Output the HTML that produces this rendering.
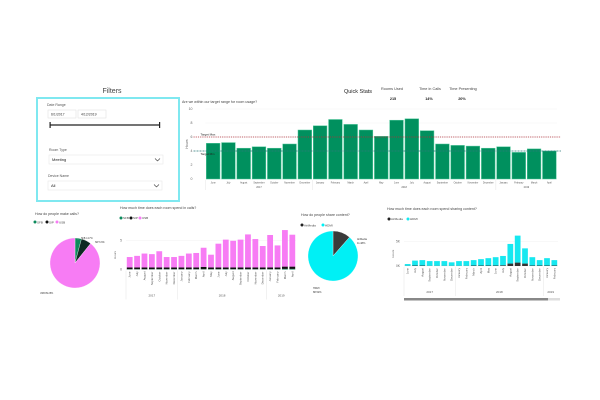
<!DOCTYPE html>
<html><head><meta charset="utf-8"><style>
body{margin:0;width:600px;height:400px;background:#fff;overflow:hidden;font-family:"Liberation Sans",sans-serif;}
svg{position:absolute;left:0;top:0}
</style></head><body>
<svg id="s" width="600" height="400" xmlns="http://www.w3.org/2000/svg" font-family="Liberation Sans, sans-serif">
<g>
<text x="112" y="93" font-size="7" fill="#444" text-anchor="middle">Filters</text>
<rect x="37" y="98" width="142" height="103" fill="#fff" stroke="#7fe8f0" stroke-width="2"/>
<text x="47" y="106" font-size="3.5" fill="#555">Date Range</text>
<rect x="48" y="110" width="28" height="8" fill="#fff" stroke="#ddd" stroke-width="0.5"/>
<text x="51" y="115.5" font-size="3.5" fill="#333">6/1/2017</text>
<rect x="78" y="110" width="28" height="8" fill="#fff" stroke="#ddd" stroke-width="0.5"/>
<text x="81" y="115.5" font-size="3.5" fill="#333">4/12/2019</text>
<line x1="50" y1="125" x2="160" y2="125" stroke="#222" stroke-width="1.2"/>
<rect x="49.5" y="122" width="1.2" height="6" fill="#222"/>
<rect x="159" y="122" width="1.2" height="6" fill="#222"/>
<text x="49" y="151" font-size="3.5" fill="#555">Room Type</text>
<rect x="49" y="155" width="114" height="9" fill="#fff" stroke="#e4e4e4" stroke-width="0.5"/>
<text x="52" y="161" font-size="4" fill="#222">Meeting</text>
<path d="M155 158.5 l2.5 2.5 l2.5 -2.5" fill="none" stroke="#333" stroke-width="0.6"/>
<text x="48" y="177" font-size="3.5" fill="#555">Device Name</text>
<rect x="48" y="181" width="114" height="9" fill="#fff" stroke="#e4e4e4" stroke-width="0.5"/>
<text x="51" y="187" font-size="4" fill="#222">All</text>
<path d="M154 184.5 l2.5 2.5 l2.5 -2.5" fill="none" stroke="#333" stroke-width="0.6"/>
</g>
<g font-size="3.8" fill="#444" text-anchor="middle">
<text x="358" y="93" font-size="5.5" fill="#222">Quick Stats</text>
<text x="392" y="90">Rooms Used</text><text x="393" y="100" font-weight="bold" fill="#222">215</text>
<text x="430" y="90">Time in Calls</text><text x="429" y="100" font-weight="bold" fill="#222">14%</text>
<text x="463" y="90">Time Presenting</text><text x="462" y="100" font-weight="bold" fill="#222">20%</text>
</g>
<text x="182" y="103" font-size="3.6" fill="#444">Are we within our target range for room usage?</text>
<g id="usage"></g>
<text x="35" y="215" font-size="3.6" fill="#444">How do people make calls?</text>
<g id="pie1"></g>
<text x="120" y="209" font-size="3.6" fill="#444">How much time does each room spend in calls?</text>
<g id="calls"></g>
<text x="301" y="216" font-size="3.6" fill="#444">How do people share content?</text>
<g id="pie2"></g>
<text x="387" y="210" font-size="3.6" fill="#444">How much time does each room spend sharing content?</text>
<g id="share"></g>
</svg>
<script>
const usageMonths=["June","July","August","September","October","November","December","January","February","March","April","May","June","July","August","September","October","November","December","January","February","March","April"];
const usageValues=[5.1,5.2,4.4,4.6,4.4,5.0,7.0,7.6,8.5,7.8,7.0,6.1,8.4,8.6,6.9,5.0,4.8,4.7,4.4,4.6,3.8,4.3,4.0];
const usageTicks=[0,2,4,6,8,10];
const targetMax=6, targetMin=4;
const callsMonths=["June","July","August","September","October","November","December","January","February","March","April","May","June","July","August","September","October","November","December","January","February","March","April"];
const callsUSB=[1.8,2.0,2.4,2.3,2.8,1.8,1.8,2.0,2.4,2.5,3.3,2.2,4.1,4.8,4.6,4.8,5.7,4.9,3.7,5.6,3.8,6.3,5.5];
const callsSIP=[0.3,0.3,0.3,0.3,0.3,0.3,0.3,0.3,0.3,0.3,0.4,0.3,0.3,0.3,0.3,0.3,0.3,0.3,0.3,0.3,0.3,0.4,0.4];
const callsSFB=[0.05,0.05,0.05,0.05,0.05,0.05,0.05,0.05,0.05,0.05,0.05,0.05,0.05,0.05,0.05,0.05,0.05,0.05,0.05,0.05,0.05,0.1,0.1];
const callsTicks=[0,5];
const shareMonths=["June","July","August","September","October","November","December","January","February","March","April","May","June","July","August","September","October","November","December","January","February"];
const shareHDMI=[0.35,1.0,1.1,0.95,0.95,0.95,0.7,0.95,0.95,1.1,1.3,1.5,1.7,1.9,4.0,5.5,3.1,1.7,1.1,1.5,1.1];
const shareAir=[0.05,0.1,0.1,0.05,0.05,0.05,0.05,0.05,0.05,0.1,0.1,0.1,0.1,0.15,0.5,0.7,0.5,0.1,0.1,0.1,0.1];
const shareTicks=[0,5];
const callsPieLabels=["SFB","SIP","USB"];
const callsPieValues=[4.17,6.58,89.25];
const sharePieLabels=["AirMedia","HDMI"];
const sharePieValues=[11.48,88.52];
const NS="http://www.w3.org/2000/svg";
function el(p,t,a,txt){const e=document.createElementNS(NS,t);for(const k in a)e.setAttribute(k,a[k]);if(txt!==undefined)e.textContent=txt;p.appendChild(e);return e;}
// usage chart
(function(){
const g=document.getElementById('usage');
const x0=205.5,x1=557,y0=179,y1=109,maxV=10;
const ys=v=>y0-(v/maxV)*(y0-y1);
const slot=(x1-x0)/usageMonths.length;
usageTicks.forEach(t=>{const l=el(g,'line',{x1:x0,x2:x1,y1:ys(t),y2:ys(t),stroke:'#eee','stroke-width':0.4});
const tx=el(g,'text',{x:x0-13,y:ys(t)+1.2,'font-size':3.5,fill:'#666','text-anchor':'end'},t);});
const yt=el(g,'text',{x:188,y:144,'font-size':3.5,fill:'#666',transform:'rotate(-90 188 144)','text-anchor':'middle'},'Hours');
usageValues.forEach((v,i)=>{const r=el(g,'rect',{x:x0+i*slot+0.8,y:ys(v),width:slot-1.6,height:y0-ys(v),fill:'#00905e',stroke:'#4fc79a','stroke-width':0.5});
const t=el(g,'text',{x:x0+i*slot+slot/2,y:y0+4.5,'font-size':2.3,fill:'#555','text-anchor':'middle'},usageMonths[i]);});
const lm=el(g,'line',{x1:x0-12,x2:x1+4,y1:ys(targetMax),y2:ys(targetMax),stroke:'#b0303a','stroke-width':0.8,'stroke-dasharray':'1.2 1'});
const ln=el(g,'line',{x1:x0-12,x2:x1+4,y1:ys(targetMin),y2:ys(targetMin),stroke:'#2a7a7a','stroke-width':0.8,'stroke-dasharray':'2 1'});
const a=el(g,'text',{x:x0-5,y:ys(targetMax)-1.5,'font-size':3,fill:'#222'},'Target Max');
const b=el(g,'text',{x:x0-5,y:ys(targetMin)+4,'font-size':3,fill:'#222'},'Target Min');
[[0,7,'2017'],[7,19,'2018'],[19,23,'2019']].forEach(([s,e,y])=>{const t=el(g,'text',{x:x0+(s+e)/2*slot,y:y0+9,'font-size':2.5,fill:'#555','text-anchor':'middle'},y);
el(g,'line',{x1:x0+s*slot,x2:x0+s*slot,y1:y0+1,y2:y0+11,stroke:'#ddd','stroke-width':0.4});});
})();
// pie
function pie(gid,labels,vals,colors,cx,cy,r,prefix){
const g=document.getElementById(gid);let a=-Math.PI/2;const tot=vals.reduce((s,v)=>s+v,0);
vals.forEach((v,i)=>{const a2=a+v/tot*2*Math.PI;const lg=(a2-a)>Math.PI?1:0;
const p=el(g,'path',{d:`M${cx} ${cy} L${cx+r*Math.cos(a)} ${cy+r*Math.sin(a)} A${r} ${r} 0 ${lg} 1 ${cx+r*Math.cos(a2)} ${cy+r*Math.sin(a2)} Z`,fill:colors[i],stroke:'#fff','stroke-width':0.3});
a=a2;});
}
pie('pie1',callsPieLabels,callsPieValues,['#0c8a5c','#0d2a22','#f77cf4'],75,263,25,'calls-pie');
pie('pie2',sharePieLabels,sharePieValues,['#3a3a3a','#00f0f5'],333,256,25,'share-pie');
(function(){const g=document.getElementById('pie1');
[['#0c8a5c',35,'SFB'],['#111',47,'SIP'],['#f77cf4',57,'USB']].forEach(([c,x,t])=>{el(g,'circle',{cx:x,cy:222,r:1.5,fill:c});const tt=el(g,'text',{x:x+2,y:223.3,'font-size':3,fill:'#444'},t);});
el(g,'text',{x:81,y:239,'font-size':2.3,fill:'#333'},'SFB 4.17%');el(g,'text',{x:95,y:243,'font-size':2.3,fill:'#333'},'SIP 6.6%');
el(g,'text',{x:40,y:294,'font-size':2.3,fill:'#333'},'USB 89.25%');
el(g,'polyline',{points:'77,240 80,238.5',fill:'none',stroke:'#888','stroke-width':0.3});
const g2=document.getElementById('pie2');
[['#222',302,'AirMedia'],['#00f0f5',323,'HDMI']].forEach(([c,x,t])=>{el(g2,'circle',{cx:x,cy:225,r:1.5,fill:c});const tt=el(g2,'text',{x:x+2,y:226.3,'font-size':3,fill:'#444'},t);});
el(g2,'text',{x:357,y:240,'font-size':2.5,fill:'#333'},'AirMedia');el(g2,'text',{x:357,y:244,'font-size':2.5,fill:'#333'},'11.48%');
el(g2,'text',{x:313,y:289,'font-size':2.5,fill:'#333'},'HDMI');el(g2,'text',{x:313,y:293,'font-size':2.5,fill:'#333'},'88.52%');
})();
// stacked
function stacked(gid,prefix,months,series,colors,x0,x1,y0,ytop,maxV,ticks,tickFmt,years,legend,ly){
const g=document.getElementById(gid);const ys=v=>y0-(v/maxV)*(y0-ytop);const slot=(x1-x0)/months.length;
ticks.forEach(t=>{el(g,'line',{x1:x0,x2:x1,y1:ys(t),y2:ys(t),stroke:'#eee','stroke-width':0.4});
const tx=el(g,'text',{x:x0-4,y:ys(t)+1.2,'font-size':3.3,fill:'#666','text-anchor':'end'},tickFmt(t));});
el(g,'text',{x:x0-10,y:(y0+ytop)/2,'font-size':3,fill:'#666',transform:`rotate(-90 ${x0-10} ${(y0+ytop)/2})`,'text-anchor':'middle'},'Hours');
months.forEach((m,i)=>{let acc=0;series.forEach((s,k)=>{const v=s[i];const r=el(g,'rect',{x:x0+i*slot+0.8,y:ys(acc+v),width:slot-1.6,height:ys(acc)-ys(acc+v),fill:colors[k]});
acc+=v;});
const cx=x0+i*slot+slot/2;const t=el(g,'text',{x:cx+1,y:y0+2,'font-size':2.8,fill:'#555','text-anchor':'end',transform:`rotate(-90 ${cx+1} ${y0+2})`},m);});
years.forEach(([s,e,y])=>{const t=el(g,'text',{x:x0+(s+e)/2*slot,y:y0+27,'font-size':3,fill:'#555','text-anchor':'middle'},y);
el(g,'line',{x1:x0+s*slot,x2:x0+s*slot,y1:y0+1,y2:y0+30,stroke:'#ddd','stroke-width':0.4});});
legend.forEach(([c,x,t])=>{el(g,'circle',{cx:x,cy:ly,r:1.5,fill:c});const tt=el(g,'text',{x:x+2,y:ly+1.2,'font-size':3,fill:'#444'},t);});
}
stacked('calls','calls',callsMonths,[callsSFB,callsSIP,callsUSB],['#0c8a5c','#111','#f77cf4'],126,296,269.5,240.5,5,callsTicks,t=>t,[[0,7,'2017'],[7,19,'2018'],[19,23,'2019']],[['#0c8a5c',121,'SFB'],['#111',131,'SIP'],['#f77cf4',140,'USB']],218);
stacked('share','share',shareMonths,[shareAir,shareHDMI],['#333','#16e8f0'],404,558,266,241.5,5,shareTicks,t=>t+'K',[[0,7,'2017'],[7,19,'2018'],[19,21,'2019']],[['#222',389,'AirMedia'],['#16e8f0',408,'HDMI']],219);
(function(){const g=document.getElementById('share');
const a=el(g,'rect',{x:404,y:298,width:156,height:2.5,fill:'#ddd'});
const b=el(g,'rect',{x:404,y:298,width:144,height:2.5,fill:'#888'});})();
</script>
</body></html>
